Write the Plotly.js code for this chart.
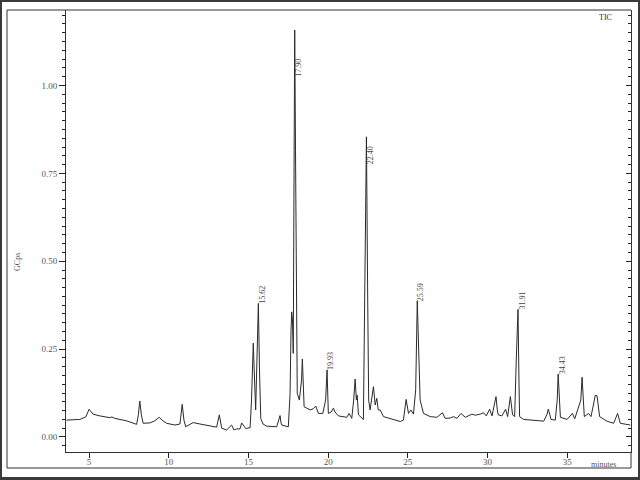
<!DOCTYPE html>
<html>
<head>
<meta charset="utf-8">
<script src="https://cdn.plot.ly/plotly-3.0.1.min.js"></script>
<style>
html,body{margin:0;padding:0;}
#wrap{position:absolute;left:0;top:0;width:640px;height:480px;background:#3a3a3a;}
#plot{position:absolute;left:2px;top:2px;width:636px;height:475px;background:#fff;}
</style>
</head>
<body>
<div id="wrap"><div id="plot"></div></div>
<script>
// Retention time (minutes)
const timeMin = [3.58,4.42,4.79,5.00,5.25,5.67,6.30,6.43,6.61,7.35,7.98,8.09,8.18,8.28,8.39,8.81,9.12,9.40,9.57,9.86,
10.38,10.70,10.84,10.95,11.06,11.53,11.95,12.37,13.00,13.17,13.32,13.63,13.94,14.09,14.26,14.47,14.57,14.72,14.85,14.97,
15.10,15.19,15.30,15.38,15.45,15.53,15.62,15.69,15.77,15.91,16.14,16.77,16.92,16.98,17.04,17.09,17.50,17.61,17.67,17.71,
17.76,17.81,17.85,17.90,17.95,17.98,18.01,18.06,18.19,18.33,18.38,18.42,18.49,18.87,19.05,19.22,19.31,19.39,19.66,19.84,
19.93,19.97,20.01,20.18,20.33,20.43,20.64,21.17,21.31,21.48,21.60,21.69,21.77,21.82,21.90,22.21,22.30,22.40,22.48,22.54,
22.63,22.84,22.95,23.05,23.14,23.26,23.47,24.10,24.52,24.72,24.89,25.04,25.19,25.35,25.49,25.59,25.68,25.77,25.98,26.40,
26.82,27.17,27.34,27.66,27.86,28.08,28.33,28.60,29.02,29.23,29.54,29.75,29.92,30.13,30.28,30.42,30.53,30.61,30.67,30.90,
31.13,31.26,31.43,31.57,31.70,31.80,31.91,31.97,32.01,32.26,32.89,33.52,33.72,33.81,33.91,33.98,34.25,34.37,34.43,34.50,
34.57,34.99,35.32,35.47,35.85,35.93,36.00,36.07,36.34,36.49,36.64,36.76,36.87,36.95,37.03,37.49,37.91,38.16,38.33,38.96];
// Total ion current (GCps)
const ticSignal = [0.048,0.050,0.057,0.079,0.065,0.060,0.055,0.057,0.053,0.046,0.036,0.063,0.102,0.063,0.039,0.040,0.046,0.056,0.048,0.039,
0.034,0.037,0.093,0.048,0.029,0.041,0.037,0.034,0.028,0.063,0.025,0.020,0.034,0.020,0.023,0.023,0.040,0.031,0.023,0.026,
0.026,0.105,0.267,0.162,0.077,0.219,0.380,0.191,0.053,0.037,0.031,0.029,0.048,0.061,0.040,0.034,0.029,0.124,0.304,0.356,
0.333,0.238,0.674,1.158,0.816,0.646,0.532,0.124,0.105,0.162,0.222,0.162,0.086,0.077,0.080,0.088,0.077,0.067,0.067,0.105,
0.191,0.119,0.067,0.071,0.082,0.071,0.060,0.056,0.067,0.053,0.105,0.165,0.105,0.119,0.063,0.050,0.390,0.854,0.390,0.105,
0.077,0.143,0.091,0.110,0.077,0.077,0.058,0.050,0.044,0.048,0.107,0.067,0.077,0.065,0.134,0.387,0.219,0.105,0.067,0.058,
0.056,0.069,0.053,0.054,0.058,0.053,0.067,0.056,0.065,0.062,0.065,0.069,0.060,0.079,0.060,0.091,0.115,0.077,0.063,0.060,
0.079,0.058,0.115,0.063,0.058,0.219,0.363,0.162,0.058,0.050,0.048,0.045,0.063,0.079,0.063,0.050,0.048,0.105,0.179,0.119,
0.056,0.050,0.067,0.052,0.105,0.170,0.105,0.058,0.067,0.058,0.091,0.119,0.117,0.091,0.058,0.045,0.039,0.067,0.039,0.034];
// Labelled peaks
const peakLabels = ["15.62","17.90","19.93","22.40","25.59","31.91","34.43"];
const peakTimes  = [15.62,17.90,19.93,22.40,25.59,31.91,34.43];
const peakHeights = [0.380,1.158,0.191,0.854,0.387,0.363,0.179];
// Axis ticks
const xTicks = [5,10,15,20,25,30,35];
const yTickStep = 0.25;
const yMinorStep = 0.025;

const serif = "Liberation Serif, DejaVu Serif, serif";
const labelShift = {"17.90": -38, "22.40": -18};
const tickCol = '#222';

const annotations = peakLabels.map((lab, i) => ({
  x: peakTimes[i], y: peakHeights[i], xref: 'x', yref: 'y',
  text: lab, showarrow: false, textangle: -90,
  xanchor: 'center', yanchor: 'middle',
  xshift: 4, yshift: (labelShift[lab] !== undefined ? labelShift[lab] : 9),
  font: {family: serif, size: 8, color: '#444'}
}));
annotations.push({
  xref: 'paper', yref: 'paper', x: 0.954, y: 0.982, text: 'TIC', showarrow: false,
  xanchor: 'center', yanchor: 'middle', font: {family: serif, size: 8, color: '#2a2a5a'}
});
annotations.push({
  xref: 'paper', yref: 'paper', x: 0.951, y: -0.029, text: 'minutes', showarrow: false,
  xanchor: 'center', yanchor: 'middle', font: {family: serif, size: 8, color: '#555'}
});
annotations.push({
  xref: 'paper', yref: 'paper', x: -0.085, y: 0.43, text: 'GCps', showarrow: false, textangle: -90,
  xanchor: 'center', yanchor: 'middle', font: {family: serif, size: 8, color: '#555'}
});

const traces = [
  {x: timeMin, y: ticSignal, type: 'scatter', mode: 'lines',
   line: {color: '#2a2a2a', width: 1}, hoverinfo: 'skip', showlegend: false},
  // same series on the mirrored right axis, drawn transparent, so that axis exists
  {x: timeMin, y: ticSignal, type: 'scatter', mode: 'lines', yaxis: 'y2',
   line: {color: 'rgba(0,0,0,0)', width: 0}, showlegend: false, hoverinfo: 'skip'}
];

const yRange = [-0.0427, 1.2148];
const layout = {
  width: 636, height: 475,
  margin: {l: 64, r: 7, t: 8, b: 25},
  showlegend: false,
  xaxis: {
    range: [3.55, 39.0], tickmode: 'array', tickvals: xTicks,
    ticks: 'outside', ticklen: 5, tickcolor: tickCol, tickwidth: 1,
    ticklabelstandoff: -4,
    showline: true, linecolor: '#333', linewidth: 1,
    showgrid: false, zeroline: false,
    tickfont: {family: serif, size: 9, color: '#555'}
  },
  yaxis: {
    range: yRange, tickmode: 'linear', tick0: 0, dtick: yTickStep, tickformat: '.2f',
    ticks: 'outside', ticklen: 6, tickcolor: tickCol, tickwidth: 1,
    minor: {tickmode: 'linear', tick0: 0, dtick: yMinorStep, ticks: 'outside', ticklen: 3, tickcolor: tickCol, tickwidth: 1},
    showline: true, linecolor: '#333', linewidth: 1,
    showgrid: false, zeroline: false,
    tickfont: {family: serif, size: 9, color: '#555'}
  },
  yaxis2: {
    overlaying: 'y', side: 'right', anchor: 'x', range: yRange,
    tickmode: 'linear', tick0: 0, dtick: yTickStep, showticklabels: false,
    ticks: 'inside', ticklen: 5, tickcolor: tickCol, tickwidth: 1,
    minor: {tickmode: 'linear', tick0: 0, dtick: yMinorStep, ticks: 'inside', ticklen: 3, tickcolor: tickCol, tickwidth: 1},
    showline: true, linecolor: '#333', linewidth: 1, showgrid: false, zeroline: false
  },
  shapes: [
    {type: 'line', xref: 'paper', yref: 'paper', x0: -0.1044, x1: -0.1044, y0: -0.0362, y1: 1, line: {color: '#333', width: 1}},
    {type: 'line', xref: 'paper', yref: 'paper', x0: -0.1044, x1: 1, y0: -0.0362, y1: -0.0362, line: {color: '#333', width: 1}},
    {type: 'line', xref: 'paper', yref: 'paper', x0: -0.1044, x1: 1, y0: 1, y1: 1, line: {color: '#333', width: 1}},
    {type: 'line', xref: 'paper', yref: 'paper', x0: 1, x1: 1, y0: -0.0362, y1: 0, line: {color: '#333', width: 1}}
  ],
  annotations: annotations
};

Plotly.newPlot('plot', traces, layout, {displayModeBar: false, staticPlot: true});
</script>
</body>
</html>
